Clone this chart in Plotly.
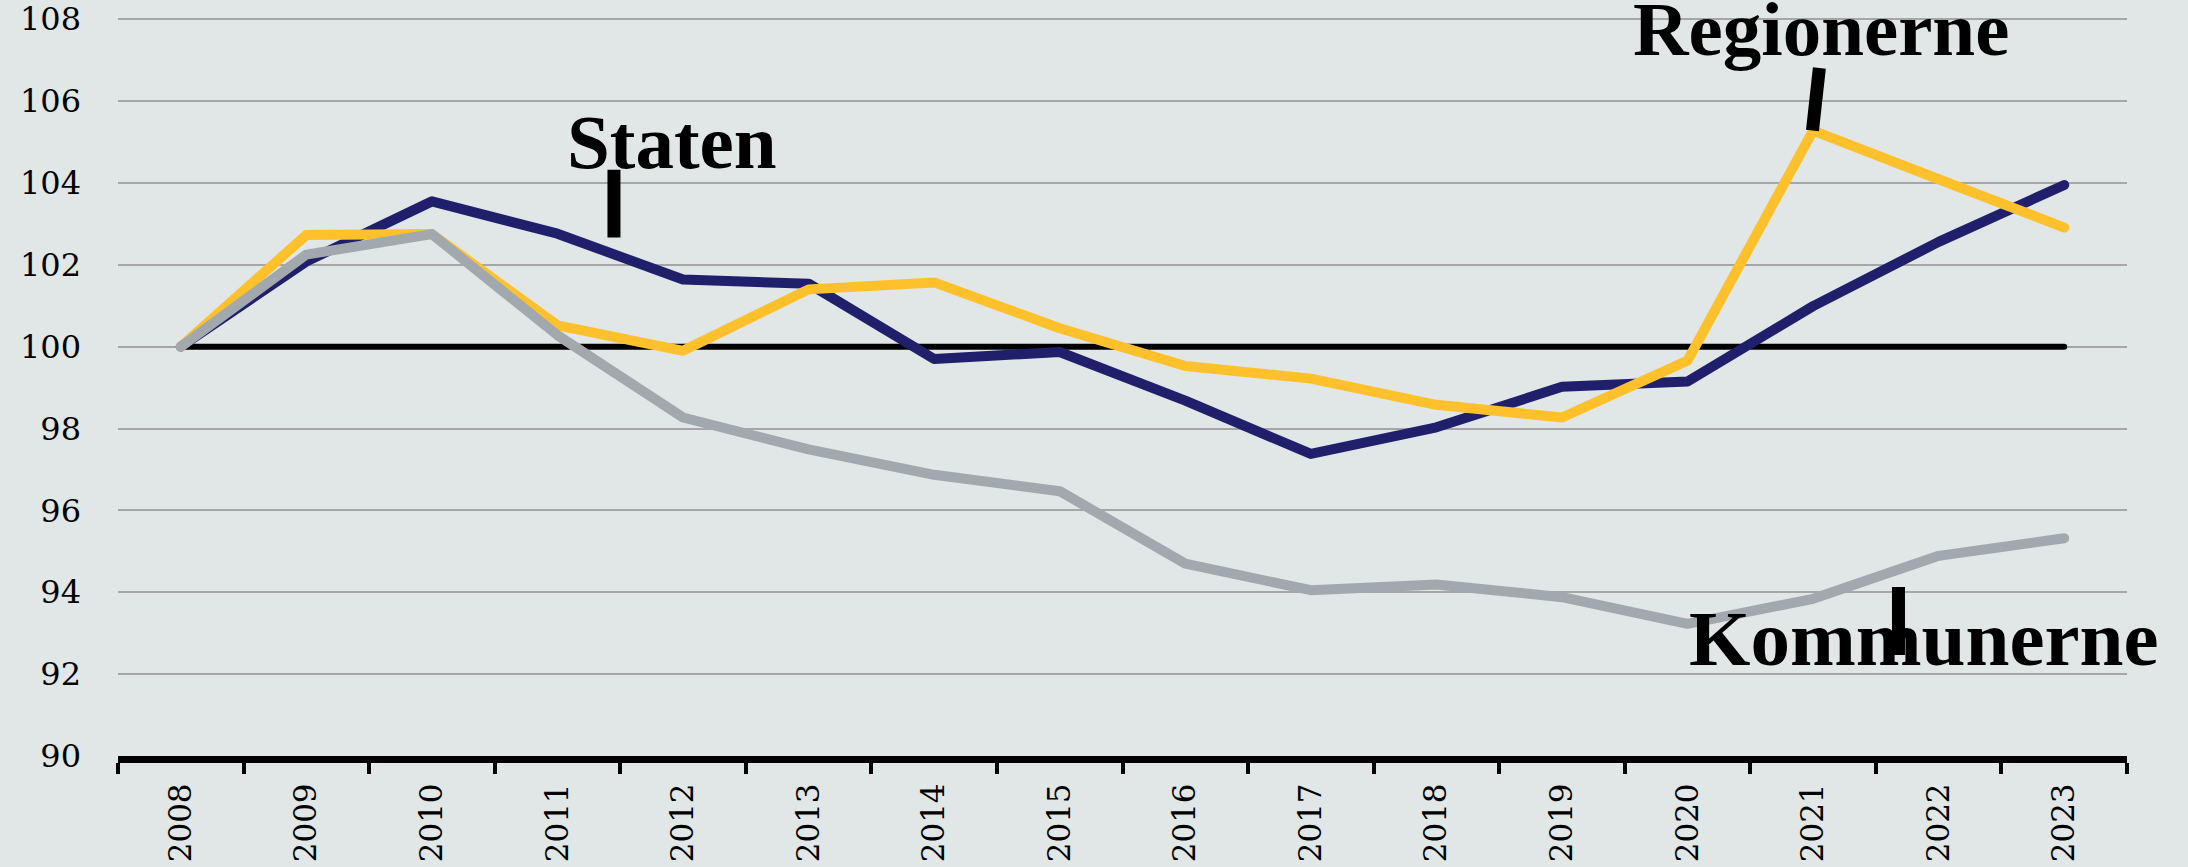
import plotly.graph_objects as go

years = [str(y) for y in range(2008, 2024)]
staten = [100, 102.08, 103.55, 102.76, 101.64, 101.54, 99.70, 99.87, 98.68, 97.38,
          98.03, 99.02, 99.15, 100.99, 102.56, 103.95]
regionerne = [100, 102.73, 102.75, 100.52, 99.90, 101.40, 101.57, 100.45, 99.53, 99.22,
              98.58, 98.27, 99.66, 105.28, 104.09, 102.91]
kommunerne = [100, 102.25, 102.75, 100.28, 98.27, 97.49, 96.87, 96.47, 94.70, 94.05,
              94.19, 93.88, 93.23, 93.84, 94.89, 95.32]
baseline = [100] * len(years)
y_ticks = list(range(90, 109, 2))

NAVY = "#201F6B"
YELLOW = "#FFC12B"
GREY = "#A2A9AE"
BG = "#E1E6E6"

fig = go.Figure()
fig.add_trace(go.Scatter(x=years, y=baseline, mode="lines", line=dict(color="black", width=6),
                         hoverinfo="skip", showlegend=False))
fig.add_trace(go.Scatter(x=years, y=staten, mode="lines", name="Staten",
                         line=dict(color=NAVY, width=10)))
fig.add_trace(go.Scatter(x=years, y=regionerne, mode="lines", name="Regionerne",
                         line=dict(color=YELLOW, width=10)))
fig.add_trace(go.Scatter(x=years, y=kommunerne, mode="lines", name="Kommunerne",
                         line=dict(color=GREY, width=10)))

label_font = dict(family="Liberation Serif", size=77, color="black")
fig.add_annotation(x=3.91, y=105.0, xref="x", yref="y", text="<b>Staten</b>",
                   showarrow=False, font=label_font, xanchor="center", yanchor="middle")
fig.add_annotation(x=13.06, y=107.76, xref="x", yref="y", text="<b>Regionerne</b>",
                   showarrow=False, font=label_font, xanchor="center", yanchor="middle")
fig.add_annotation(x=13.88, y=92.87, xref="x", yref="y", text="<b>Kommunerne</b>",
                   showarrow=False, font=dict(family="Liberation Serif", size=79, color="black"),
                   xanchor="center", yanchor="middle")

leader = dict(color="black", width=13)
fig.add_shape(type="line", xref="x", yref="y", x0=3.45, x1=3.45, y0=102.67, y1=104.32, line=leader)
fig.add_shape(type="line", xref="x", yref="y", x0=12.995, x1=13.05, y0=105.28, y1=106.81, line=leader)
fig.add_shape(type="line", xref="x", yref="y", x0=13.68, x1=13.68, y0=92.47, y1=94.13, line=leader)

fig.update_layout(
    width=2188, height=867,
    margin=dict(l=118, r=61, t=18, b=111),
    paper_bgcolor=BG, plot_bgcolor=BG,
    showlegend=False,
    xaxis=dict(type="category", range=[-0.5, 15.5], tickson="boundaries",
               ticks="outside", ticklen=11, tickwidth=4, tickcolor="black",
               showline=True, linecolor="black", linewidth=7,
               showgrid=False, tickangle=-90, automargin=False, ticklabelstandoff=8,
               tickfont=dict(family="DejaVu Serif", size=31, color="black")),
    yaxis=dict(range=[90, 108.03], tickvals=y_ticks, ticktext=[str(v) for v in y_ticks],
               showgrid=True, gridcolor="#A6A6A6", gridwidth=1.5, zeroline=False,
               showline=False, ticks="", ticklabelstandoff=36, automargin=False,
               tickfont=dict(family="DejaVu Serif", size=32, color="black")),
)

post = ("document.body.style.margin='0';document.body.style.overflow='hidden';"
        "document.querySelectorAll('.scatterlayer path.js-line').forEach(function(p){"
        "p.style.strokeLinecap='round';p.style.strokeLinejoin='round';});")
fig.write_html("out.html", post_script=post, config={"displayModeBar": False})
